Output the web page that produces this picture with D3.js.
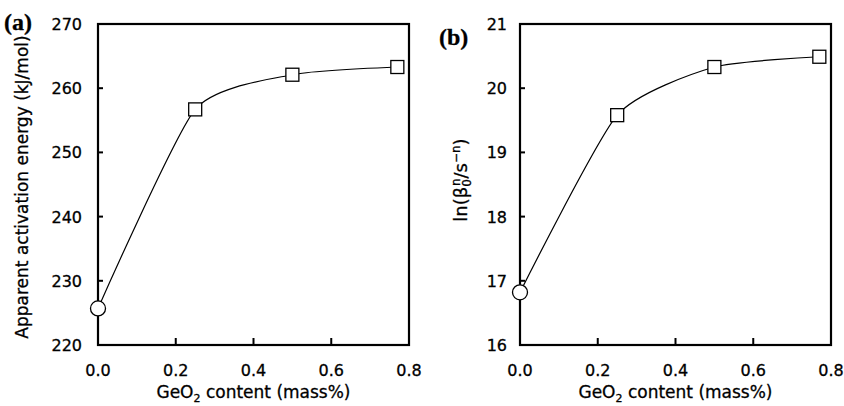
<!DOCTYPE html>
<html>
<head>
<meta charset="utf-8">
<script src="https://cdn.jsdelivr.net/npm/d3@7"></script>
<style>
  body { margin: 0; background: #fff; }
  svg { display: block; }
  text { font-family: "DejaVu Sans", sans-serif; fill: #000; stroke: #000; stroke-width: 0.3; }
</style>
</head>
<body>
<svg id="chart" width="844" height="406"></svg>
<script>
// GeO2 content (mass%)
const geo2 = [0, 0.25, 0.5, 0.77];
// apparent activation energy (kJ/mol)
const energy = [225.7, 256.7, 262.1, 263.3];
// ln(beta0^n / s^-n)
const lnBeta = [16.82, 19.58, 20.33, 20.49];

const xTicks = [0, 0.2, 0.4, 0.6, 0.8];
const energyTicks = [220, 230, 240, 250, 260, 270];
const lnTicks = [16, 17, 18, 19, 20, 21];

const svg = d3.select("#chart");

//draws one panel
function drawPanel(left, values, yDomain, yTicks, tag, tagPos, tickGap){
    const top = 24, width = 311, height = 321;
    const g = svg.append("g").attr("transform", `translate(${left},${top})`);

    const x = d3.scaleLinear().domain([0, 0.8]).range([0, width]);
    const y = d3.scaleLinear().domain(yDomain).range([height, 0]);

    //inner ticks
    g.selectAll(".xt")
        .data(xTicks.slice(1, -1))
        .enter().append("line")
            .attr("x1", d => x(d)).attr("x2", d => x(d))
            .attr("y1", height).attr("y2", height - 7)
            .attr("stroke", "#000").attr("stroke-width", 2);
    g.selectAll(".yt")
        .data(yTicks.slice(1, -1))
        .enter().append("line")
            .attr("x1", 0).attr("x2", 5)
            .attr("y1", d => y(d)).attr("y2", d => y(d))
            .attr("stroke", "#000").attr("stroke-width", 2);

    //tick labels
    g.selectAll(".xl")
        .data(xTicks)
        .enter().append("text")
            .attr("x", d => x(d)).attr("y", height + 31)
            .attr("text-anchor", "middle")
            .style("font-size", "16px")
            .text(d => d.toFixed(1));
    g.selectAll(".yl")
        .data(yTicks)
        .enter().append("text")
            .attr("x", -tickGap).attr("y", d => y(d) + 6)
            .attr("text-anchor", "end")
            .style("font-size", "16px")
            .text(d => d);

    //line
    const line = d3.line()
        .x((d, i) => x(geo2[i]))
        .y(d => y(d))
        .curve(d3.curveCardinal.tension(0.4));
    g.append("path")
        .attr("d", line(values))
        .attr("fill", "none")
        .attr("stroke", "#000")
        .attr("stroke-width", 1.2);

    //frame
    g.append("rect")
        .attr("width", width).attr("height", height)
        .attr("fill", "none")
        .attr("stroke", "#000").attr("stroke-width", 2.2);

    //markers
    g.append("circle")
        .attr("cx", x(geo2[0])).attr("cy", y(values[0])).attr("r", 7.5)
        .attr("fill", "#fff").attr("stroke", "#000").attr("stroke-width", 1.3);
    g.selectAll(".sq")
        .data(values.slice(1))
        .enter().append("rect")
            .attr("x", (d, i) => x(geo2[i + 1]) - 6.5)
            .attr("y", d => y(d) - 6.5)
            .attr("width", 13).attr("height", 13)
            .attr("fill", "#fff").attr("stroke", "#000").attr("stroke-width", 1.3);

    //x axis title
    const xt = g.append("text")
        .attr("x", width / 2).attr("y", height + 53)
        .attr("text-anchor", "middle")
        .style("font-size", "17px");
    xt.append("tspan").text("GeO");
    xt.append("tspan").attr("dy", 4).style("font-size", "11px").text("2");
    xt.append("tspan").attr("dy", -4).text(" content (mass%)");

    //panel tag
    svg.append("text")
        .attr("x", tagPos[0]).attr("y", tagPos[1])
        .style("font-family", "'Liberation Serif', serif")
        .style("font-weight", "bold")
        .style("font-size", "24px")
        .text(tag);
    return g;
}

drawPanel(98, energy, [220, 270], energyTicks, "(a)", [4, 30], 16);
drawPanel(520, lnBeta, [16, 21], lnTicks, "(b)", [439, 45], 13);

//y titles
svg.append("text")
    .attr("transform", "translate(28,187) rotate(-90)")
    .attr("text-anchor", "middle")
    .style("font-size", "17px")
    .text("Apparent activation energy (kJ/mol)");

const yb = svg.append("text")
    .attr("transform", "translate(467,180) rotate(-90)")
    .attr("text-anchor", "middle")
    .style("font-size", "18px");
yb.append("tspan").text("ln(\u03B2");
yb.append("tspan").attr("dy", 4).style("font-size", "12px").text("0");
yb.append("tspan").attr("dx", -7).attr("dy", -11).style("font-size", "12px").text("n");
yb.append("tspan").attr("dy", 7).text("/s");
yb.append("tspan").attr("dy", -7).style("font-size", "12px").text("\u2212n");
yb.append("tspan").attr("dy", 7).text(")");
</script>
</body>
</html>
